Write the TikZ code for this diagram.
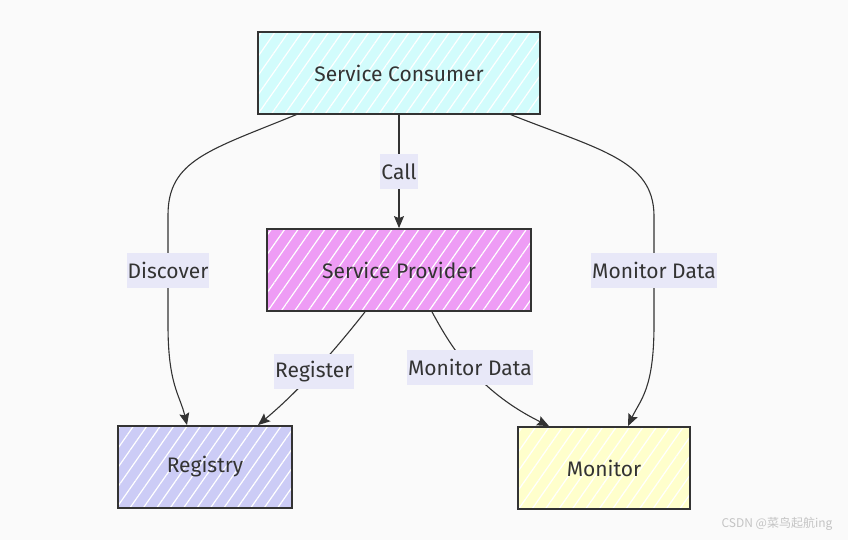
\documentclass[tikz,border=0pt]{standalone}
\usepackage{fontspec}
\setmainfont{Fira Sans}
\newfontfamily\cjkfont{Noto Sans CJK SC}
\usepackage{tikz}
\usetikzlibrary{calc,arrows.meta,patterns.meta}
\definecolor{bg}{HTML}{FAFAFA}
\definecolor{ink}{HTML}{333333}
\definecolor{labbg}{HTML}{E8E8F8}
\definecolor{consumerfill}{HTML}{D2FCFC}
\definecolor{providerfill}{HTML}{EE9CF5}
\definecolor{registryfill}{HTML}{CCCCF6}
\definecolor{monitorfill}{HTML}{FFFFCC}
\definecolor{wmark}{HTML}{C4C4C4}
\tikzset{
  box/.style={draw=ink, line width=1.8pt, text=ink, font=\fontsize{21}{24}\selectfont,
    preaction={fill=#1}, pattern={Lines[angle=55,distance=11pt,line width=1.2pt]},
    pattern color=white, minimum height=82pt},
  link/.style={draw=ink, line width=1.1pt, -{Stealth[length=12pt,width=10pt,inset=2pt]}},
  elabel/.style={fill=labbg, text=ink, font=\fontsize{21}{24}\selectfont,
    inner xsep=1pt, inner ysep=0pt, minimum height=35pt},
}
\begin{document}
\begin{tikzpicture}[x=1pt,y=-1pt]
  \fill[bg] (0,0) rectangle (848,540);
  \useasboundingbox (0,0) rectangle (848,540);

  \node[box=consumerfill, minimum width=282pt] (consumer) at (399,73) {Service Consumer};
  \node[box=providerfill, minimum width=264pt] (provider) at (399,270) {Service Provider};
  \node[box=registryfill, minimum width=174pt] (registry) at (205,467) {Registry};
  \node[box=monitorfill, minimum width=172pt] (monitor) at (604,468) {Monitor};

  % consumer edges
  \draw[link] (consumer.south) -- node[elabel, pos=0.5] {Call} (provider.north);
  \draw[link] ([xshift=39pt]consumer.south west) .. controls (210,150) and (168,160) ..
    (168,215) -- node[elabel, pos=0.5] {Discover} (168,325)
    .. controls (168,385) and (180,395) .. ([xshift=-18pt]registry.north);
  \draw[link] ([xshift=-30pt]consumer.south east) .. controls (600,150) and (653,160) ..
    (654,215) -- node[elabel, pos=0.5] {Monitor Data} (654,325)
    .. controls (654,390) and (640,400) .. ([xshift=24pt]monitor.north);

  % provider edges
  \draw[link] ([xshift=-34pt]provider.south) .. controls (335,350) and (300,390) ..
    node[elabel, pos=0.52] {Register} ([xshift=53pt]registry.north);
  \draw[link] ([xshift=33pt]provider.south) .. controls (450,345) and (476,390) ..
    node[elabel, pos=0.5] {Monitor Data} ([xshift=-55pt]monitor.north);

  \node[text=wmark, font=\cjkfont\fontsize{12}{14}\selectfont, anchor=east] (mark) at (836,524) {CSDN @菜鸟起航ing};
\end{tikzpicture}
\end{document}
